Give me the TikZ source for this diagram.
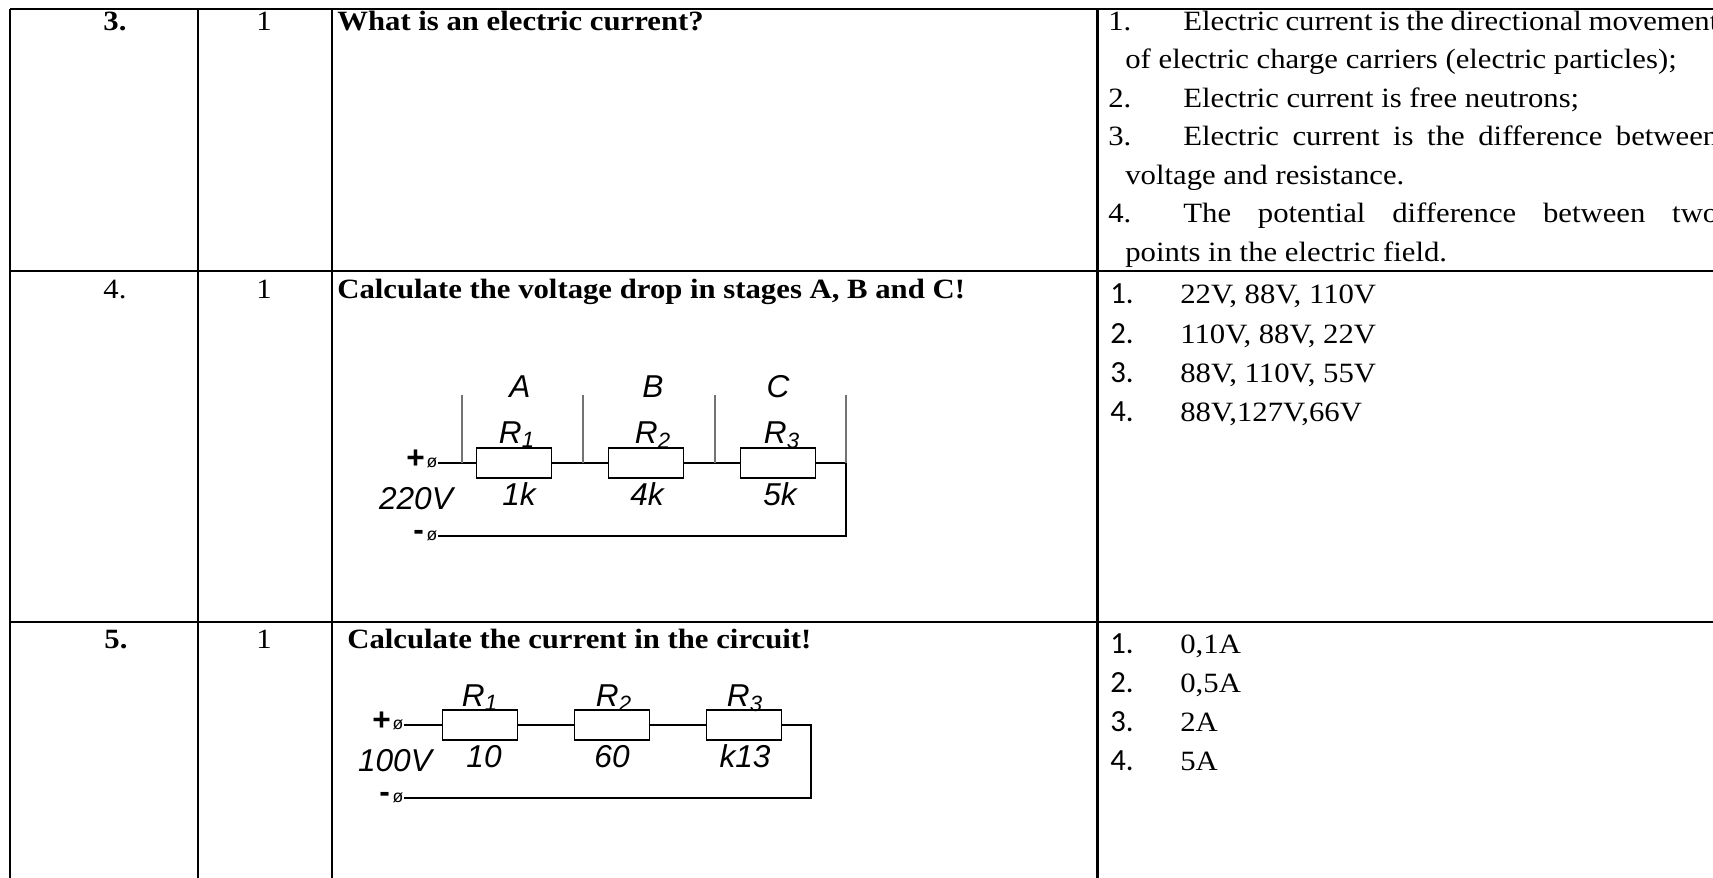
\documentclass[tikz,border=0pt]{standalone}
\usepackage{fontspec}
\setmainfont{Liberation Serif}[FakeStretch=1.1]
\setsansfont{Liberation Sans}
\newfontfamily\numfont{Carlito}
\usetikzlibrary{positioning}

\begin{document}
\begin{tikzpicture}
[
  x=0.02cm, y=-0.02cm,
  grid/.style={line width=1.7pt},
  wire/.style={line width=1pt},
  tap/.style={line width=0.8pt,black!55},
  res/.style={draw,line width=1pt,minimum width=1.5cm,minimum height=0.6cm,inner sep=0pt},
  txt/.style={anchor=base west,inner sep=0pt,font=\fontsize{15.9}{20}\selectfont},
  mid/.style={anchor=base,inner sep=0pt,font=\fontsize{15.9}{20}\selectfont},
  num/.style={anchor=base west,inner sep=0pt,font=\numfont\fontsize{17.5}{21}\selectfont},
  lab/.style={anchor=base,inner sep=0pt,font=\sffamily\itshape\fontsize{18}{20}\selectfont},
  term/.style={inner sep=0pt,font=\sffamily\fontsize{10}{10}\selectfont},
  sign/.style={inner sep=0pt,text height=0.62em,text depth=0pt,font=\sffamily\bfseries\fontsize{18}{20}\selectfont},
  minus/.style={sign,text height=0.56em}
]
\useasboundingbox (0,0) rectangle (1713,878);

% table
\draw[grid] (10,9) -- (1725,9);
\draw[grid] (10,271) -- (1725,271);
\draw[grid] (10,622) -- (1725,622);
\draw[grid] (10,9) -- (10,890);
\draw[grid] (198,9) -- (198,890);
\draw[grid] (332,9) -- (332,890);
\draw[grid] (1097,9) -- (1097,890);

% row 3
\node[mid] (n3) at (115,31) {\bfseries 3.};
\node[mid] (p3) at (264,31) {1};
\node[txt] (q3) at (337,31) {\bfseries What is an electric current?};
\node[txt] (a31n) at (1108,31) {1.};
\node[txt] (a31) at (1183,31) {\makebox[10.7cm][s]{Electric current is the directional movement}};
\node[txt] (a31b) at (1125,69) {of electric charge carriers (electric particles);};
\node[txt] (a32n) at (1108,108) {2.};
\node[txt] (a32) at (1183,108) {Electric current is free neutrons;};
\node[txt] (a33n) at (1108,146) {3.};
\node[txt] (a33) at (1183,146) {\makebox[10.7cm][s]{Electric current is the difference between}};
\node[txt] (a33b) at (1125,185) {voltage and resistance.};
\node[txt] (a34n) at (1108,223) {4.};
\node[txt] (a34) at (1183,223) {\makebox[10.7cm][s]{The potential difference between two}};
\node[txt] (a34b) at (1125,262) {points in the electric field.};

% row 4
\node[mid] (n4) at (115,299) {4.};
\node[mid] (p4) at (264,299) {1};
\node[txt] (q4) at (337,299) {\bfseries Calculate the voltage drop in stages A, B and C!};
\node[num] (a41n) at (1110,304) {1.};
\node[txt] (a41) at (1180,304) {22V, 88V, 110V};
\node[num] (a42n) at (1110,343) {2.};
\node[txt] (a42) at (1180,343) {110V, 88V, 22V};
\node[num] (a43n) at (1110,382) {3.};
\node[txt] (a43) at (1180,382) {88V, 110V, 55V};
\node[num] (a44n) at (1110,421) {4.};
\node[txt] (a44) at (1180,421) {88V,127V,66V};

% circuit A B C
\node[res] (r1a) at (514,463) {};
\node[res] (r2a) at (646,463) {};
\node[res] (r3a) at (778,463) {};
\node[term] (pa) at (432,463) {ø};
\node[sign,left=0.02cm of pa] (plusa) {+};
\node[term] (ma) at (432,536) {ø};
\node[minus,left=0.04cm of ma] (minusa) {-};
\coordinate (ea) at (846,463);
\coordinate (fa) at (846,536);
\draw[wire] (pa.east) -- (r1a.west) (r1a.east) -- (r2a.west) (r2a.east) -- (r3a.west);
\draw[wire] (r3a.east) -- (ea) -- (fa) -- (ma.east);
\coordinate (ta1) at (462,463);
\coordinate (ta2) at (583,463);
\coordinate (ta3) at (715,463);
\draw[tap] (ta1) -- +(0,-68);
\draw[tap] (ta2) -- +(0,-68);
\draw[tap] (ta3) -- +(0,-68);
\draw[tap] (ea) -- +(0,-68);
\node[lab] (la) at (520,397) {A};
\node[lab] (lb) at (653,397) {B};
\node[lab] (lc) at (778,397) {C};
\node[lab] (ra1) at (517,443) {R\textsubscript{1}};
\node[lab] (ra2) at (653,443) {R\textsubscript{2}};
\node[lab] (ra3) at (782,443) {R\textsubscript{3}};
\node[lab] (va1) at (519,505) {1k};
\node[lab] (va2) at (647,505) {4k};
\node[lab] (va3) at (780,505) {5k};
\node[lab] (ua) at (416,509) {220V};

% row 5
\node[mid] (n5) at (116,648) {\bfseries 5.};
\node[mid] (p5) at (264,648) {1};
\node[txt] (q5) at (347,648) {\bfseries Calculate the current in the circuit!};
\node[num] (a51n) at (1110,653) {1.};
\node[txt] (a51) at (1180,653) {0,1A};
\node[num] (a52n) at (1110,692) {2.};
\node[txt] (a52) at (1180,692) {0,5A};
\node[num] (a53n) at (1110,731) {3.};
\node[txt] (a53) at (1180,731) {2A};
\node[num] (a54n) at (1110,770) {4.};
\node[txt] (a54) at (1180,770) {5A};

% circuit current
\node[res] (r1b) at (480,725) {};
\node[res] (r2b) at (612,725) {};
\node[res] (r3b) at (744,725) {};
\node[term] (pb) at (398,725) {ø};
\node[sign,left=0.02cm of pb] (plusb) {+};
\node[term] (mb) at (398,798) {ø};
\node[minus,left=0.04cm of mb] (minusb) {-};
\coordinate (eb) at (811,725);
\coordinate (fb) at (811,798);
\draw[wire] (pb.east) -- (r1b.west) (r1b.east) -- (r2b.west) (r2b.east) -- (r3b.west);
\draw[wire] (r3b.east) -- (eb) -- (fb) -- (mb.east);
\node[lab] (rb1) at (480,706) {R\textsubscript{1}};
\node[lab] (rb2) at (614,706) {R\textsubscript{2}};
\node[lab] (rb3) at (745,706) {R\textsubscript{3}};
\node[lab] (vb1) at (484,767) {10};
\node[lab] (vb2) at (612,767) {60};
\node[lab] (vb3) at (745,767) {k13};
\node[lab] (ub) at (395,771) {100V};

\end{tikzpicture}
\end{document}
